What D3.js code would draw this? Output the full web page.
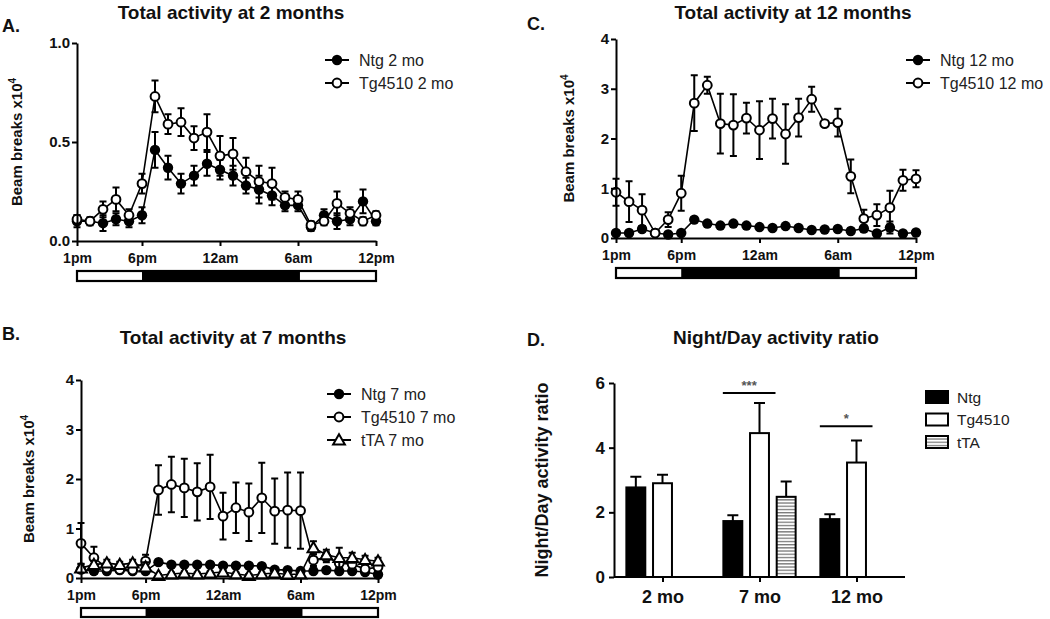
<!DOCTYPE html>
<html><head><meta charset="utf-8">
<script src="https://cdn.jsdelivr.net/npm/d3@7"></script>
<style>body{margin:0;background:#fff} svg{display:block;font-family:"Liberation Sans",Arial,sans-serif}</style>
</head><body><svg id="c" width="1050" height="619"></svg>
<script>
// ---------- data ----------
const hours = [0,1,2,3,4,5,6,7,8,9,10,11,12,13,14,15,16,17,18,19,20,21,22,23];
const xTickHours = [0,5,11,17,23];
const xTickLabels = ["1pm","6pm","12am","6am","12pm"];
const lightsOff = 5, lightsOn = 17.15;

// Panel A: 2 months
const ntg2    = [0.10,0.10,0.09,0.11,0.10,0.13,0.46,0.37,0.29,0.33,0.39,0.36,0.33,0.28,0.26,0.23,0.18,0.18,0.07,0.13,0.10,0.11,0.20,0.10];
const ntg2Err = [0.03,0.02,0.04,0.03,0.03,0.04,0.09,0.06,0.05,0.05,0.06,0.05,0.05,0.04,0.07,0.05,0.03,0.03,0.02,0.03,0.04,0.03,0.06,0.02];
const tg2     = [0.11,0.10,0.16,0.21,0.13,0.29,0.73,0.59,0.60,0.52,0.55,0.43,0.44,0.35,0.30,0.29,0.22,0.21,0.08,0.10,0.19,0.14,0.10,0.13];
const tg2Err  = [0.02,0.01,0.04,0.06,0.03,0.05,0.08,0.05,0.07,0.06,0.09,0.10,0.08,0.07,0.08,0.08,0.03,0.04,0.02,0.02,0.06,0.03,0.02,0.02];

// Panel B: 7 months
const ntg7    = [0.17,0.14,0.14,0.16,0.14,0.14,0.32,0.27,0.27,0.27,0.27,0.25,0.25,0.25,0.24,0.17,0.16,0.14,0.14,0.16,0.14,0.14,0.12,0.07];
const ntg7Err = [0.06,0.06,0.05,0.05,0.05,0.05,0.05,0.04,0.04,0.04,0.04,0.04,0.04,0.04,0.04,0.04,0.04,0.04,0.05,0.05,0.05,0.05,0.05,0.05];
const tg7     = [0.70,0.41,0.20,0.17,0.16,0.34,1.78,1.89,1.82,1.74,1.84,1.25,1.42,1.33,1.62,1.35,1.37,1.36,0.36,0.42,0.30,0.28,0.18,0.22];
const tg7Err  = [0.41,0.22,0.05,0.05,0.05,0.13,0.50,0.56,0.59,0.58,0.65,0.47,0.51,0.58,0.71,0.66,0.76,0.77,0.12,0.10,0.08,0.08,0.06,0.06];
const tta7    = [0.20,0.27,0.30,0.27,0.30,0.22,0.05,0.08,0.10,0.08,0.10,0.12,0.08,0.05,0.08,0.10,0.07,0.08,0.61,0.47,0.41,0.41,0.37,0.34];
const tta7Err = [0.08,0.08,0.07,0.06,0.07,0.10,0.03,0.03,0.03,0.03,0.03,0.03,0.03,0.03,0.03,0.03,0.03,0.03,0.13,0.10,0.20,0.10,0.08,0.07];

// Panel C: 12 months
const ntg12    = [0.10,0.10,0.18,0.10,0.07,0.10,0.37,0.29,0.25,0.29,0.25,0.22,0.20,0.24,0.20,0.16,0.17,0.18,0.14,0.19,0.09,0.21,0.09,0.11];
const ntg12Err = [0.04,0.03,0.05,0.03,0.03,0.04,0.05,0.04,0.03,0.04,0.03,0.03,0.03,0.04,0.03,0.03,0.03,0.03,0.05,0.06,0.04,0.12,0.03,0.03];
const tg12     = [0.92,0.73,0.56,0.10,0.37,0.90,2.71,3.07,2.30,2.27,2.41,2.17,2.40,2.09,2.42,2.79,2.30,2.32,1.24,0.39,0.46,0.61,1.16,1.19];
const tg12Err  = [0.27,0.41,0.32,0.03,0.15,0.35,0.56,0.17,0.60,0.62,0.31,0.58,0.40,0.60,0.38,0.25,0.05,0.28,0.34,0.18,0.22,0.34,0.21,0.17];

// Panel D: Night/Day ratio
const ageGroups   = ["2 mo","7 mo","12 mo"];
const genotypes   = ["Ntg","Tg4510","tTA"];
const ntgRatio    = [2.77,1.73,1.79];
const ntgRatioErr = [0.33,0.18,0.15];
const tgRatio     = [2.90,4.45,3.54];
const tgRatioErr  = [0.26,0.93,0.68];
const ttaRatio    = [null,2.48,null];
const ttaRatioErr = [null,0.47,null];
const ratioTicks  = [0,2,4,6];
const sigGroups = ["7 mo","12 mo"];
const sigLabels = ["***","*"];
const sigLevels = [5.69,4.66];

// ---------- drawing ----------
const svg = d3.select("#c");
svg.append("rect").attr("width",1050).attr("height",619).attr("fill","#fff");
const defs = svg.append("defs");
const pat = defs.append("pattern").attr("id","stripes").attr("patternUnits","userSpaceOnUse")
  .attr("width",6).attr("height",3.2);
pat.append("rect").attr("width",6).attr("height",3.2).attr("fill","#fff");
pat.append("rect").attr("width",6).attr("height",1.3).attr("fill","#777");

function styleAxis(sel, fs){
  sel.attr("font-family",null).attr("font-size",null);
  sel.select(".domain").attr("stroke","#000").attr("stroke-width",2);
  sel.selectAll(".tick line").attr("stroke","#000").attr("stroke-width",2);
  sel.selectAll(".tick text").attr("fill","#111").attr("font-weight","bold").attr("font-size",fs);
}

function marker(g, type, cx, cy){
  if(type==="filled"){
    g.append("circle").attr("cx",cx).attr("cy",cy).attr("r",5.2).attr("fill","#000");
  } else if(type==="open"){
    g.append("circle").attr("cx",cx).attr("cy",cy).attr("r",4.4).attr("fill","#fff").attr("stroke","#000").attr("stroke-width",2);
  } else {
    g.append("path").attr("d",d3.symbol(d3.symbolTriangle,60)()).attr("transform",`translate(${cx},${cy+1})`)
      .attr("fill","#fff").attr("stroke","#000").attr("stroke-width",2);
  }
}

function linePanel(o){
  const g = svg.append("g");
  const x = d3.scaleLinear().domain([0,23]).range([o.x0,o.x1]);
  const y = d3.scaleLinear().domain([0,o.ymax]).range([o.y0,o.y1]);

  o.series.forEach(s=>{
    const sg = g.append("g");
    sg.append("path").datum(s.values)
      .attr("d",d3.line().x((d,i)=>x(hours[i])).y(d=>y(d)))
      .attr("fill","none").attr("stroke","#000").attr("stroke-width",1.6);
    sg.selectAll("path.err").data(s.values).enter().append("path").attr("class","err")
      .attr("d",(d,i)=>{const cx=x(hours[i]), t=y(d+s.err[i]), b=y(Math.max(0,d-s.err[i]));
        return `M${cx},${t}V${b}M${cx-3.5},${t}h7M${cx-3.5},${b}h7`;})
      .attr("stroke","#000").attr("stroke-width",2).attr("fill","none");
    s.values.forEach((d,i)=>marker(sg,s.type,x(hours[i]),y(d)));
  });

  const ya = g.append("g").attr("transform",`translate(${o.x0},0)`)
    .call(d3.axisLeft(y).tickValues(o.yticks).tickFormat(o.yfmt).tickSize(5).tickSizeOuter(0).tickPadding(2));
  styleAxis(ya, o.yfs);
  const xa = g.append("g").attr("transform",`translate(0,${o.y0})`)
    .call(d3.axisBottom(x).tickValues(xTickHours).tickFormat((d,i)=>xTickLabels[i]).tickSize(5).tickSizeOuter(0).tickPadding(7));
  styleAxis(xa, 14);

  g.append("rect").attr("x",x(0)).attr("y",o.barY).attr("width",x(lightsOff)-x(0)).attr("height",o.barH).attr("fill","#fff");
  g.append("rect").attr("x",x(lightsOff)).attr("y",o.barY).attr("width",x(lightsOn)-x(lightsOff)).attr("height",o.barH).attr("fill","#000");
  g.append("rect").attr("x",x(0)).attr("y",o.barY).attr("width",x(23)-x(0)).attr("height",o.barH)
    .attr("fill","none").attr("stroke","#000").attr("stroke-width",2.2);

  g.append("text").attr("x",o.tx).attr("y",o.ty).attr("text-anchor","middle").attr("font-weight","bold")
    .attr("font-size",19).attr("fill","#111").text(o.title);
  g.append("text").attr("x",o.lx).attr("y",o.ly).attr("font-weight","bold").attr("font-size",18).attr("fill","#111")
    .text(o.letter);
  const yl = g.append("text").attr("transform",`translate(${o.ylx},${(o.y0+o.y1)/2}) rotate(-90)`)
    .attr("text-anchor","middle").attr("font-weight","bold").attr("font-size",15).attr("fill","#111");
  yl.append("tspan").text("Beam breaks x10");
  yl.append("tspan").attr("dy",-6).attr("font-size",10).text("4");

  o.series.forEach((s,i)=>{
    const ly = o.legY + i*o.legStep;
    g.append("line").attr("x1",o.legX-12).attr("x2",o.legX+12).attr("y1",ly).attr("y2",ly).attr("stroke","#000").attr("stroke-width",2);
    marker(g,s.type,o.legX,ly);
    g.append("text").attr("x",o.legX+22).attr("y",ly+5.5).attr("font-size",16).attr("fill","#222").text(s.name);
  });
}

linePanel({x0:77,x1:376,y0:241,y1:43,ymax:1,yticks:[0,0.5,1],yfmt:d3.format(".1f"),yfs:15,
  barY:271,barH:10,title:"Total activity at 2 months",tx:231,ty:19,letter:"A.",lx:2,ly:32,ylx:22,
  legX:337,legY:60,legStep:23,
  series:[{name:"Ntg 2 mo",type:"filled",values:ntg2,err:ntg2Err},{name:"Tg4510 2 mo",type:"open",values:tg2,err:tg2Err}]});

linePanel({x0:616,x1:916,y0:238,y1:39,ymax:4,yticks:[0,1,2,3,4],yfmt:d3.format("d"),yfs:15,
  barY:268,barH:10,title:"Total activity at 12 months",tx:793,ty:19,letter:"C.",lx:527,ly:30,ylx:574,
  legX:918,legY:60,legStep:23,
  series:[{name:"Ntg 12 mo",type:"filled",values:ntg12,err:ntg12Err},{name:"Tg4510 12 mo",type:"open",values:tg12,err:tg12Err}]});

linePanel({x0:81,x1:378,y0:578,y1:380,ymax:4,yticks:[0,1,2,3,4],yfmt:d3.format("d"),yfs:15,
  barY:608,barH:9,title:"Total activity at 7 months",tx:233,ty:344,letter:"B.",lx:2,ly:340,ylx:34,
  legX:339,legY:394,legStep:23,
  series:[{name:"Ntg 7 mo",type:"filled",values:ntg7,err:ntg7Err},{name:"Tg4510 7 mo",type:"open",values:tg7,err:tg7Err},{name:"tTA 7 mo",type:"tri",values:tta7,err:tta7Err}]});

// ---------- Panel D ----------
(function(){
  const g = svg.append("g");
  const x = d3.scalePoint().domain(ageGroups).range([614,905]).padding(0.5);
  const xs = d3.scaleBand().domain(genotypes).range([-40,40]).paddingInner(0.29).paddingOuter(0.145);
  const y = d3.scaleLinear().domain([0,6]).range([577,383]);
  const fills = {"Ntg":"#000","Tg4510":"#fff","tTA":"url(#stripes)"};
  const vals = {"Ntg":[ntgRatio,ntgRatioErr],"Tg4510":[tgRatio,tgRatioErr],"tTA":[ttaRatio,ttaRatioErr]};
  genotypes.forEach(gt=>{
    const [v,e] = vals[gt];
    ageGroups.forEach((grp,i)=>{
      if(v[i]==null) return;
      const bx = x(grp)+xs(gt), bw = xs.bandwidth(), cx = bx+bw/2;
      g.append("path").attr("d",`M${cx},${y(v[i])}V${y(v[i]+e[i])}M${cx-5.5},${y(v[i]+e[i])}h11`)
        .attr("stroke","#000").attr("stroke-width",2).attr("fill","none");
      g.append("rect").attr("x",bx).attr("y",y(v[i])).attr("width",bw).attr("height",y(0)-y(v[i]))
        .attr("fill",fills[gt]).attr("stroke","#000").attr("stroke-width",2);
    });
  });
  sigGroups.forEach((grp,i)=>{
    const xa = x(grp)+xs("Ntg")+xs.bandwidth()/2-10, xb = x(grp)+xs("Tg4510")+xs.bandwidth()/2+16;
    g.append("line").attr("x1",xa).attr("x2",xb).attr("y1",y(sigLevels[i])).attr("y2",y(sigLevels[i]))
      .attr("stroke","#000").attr("stroke-width",2);
    g.append("text").attr("x",(xa+xb)/2).attr("y",y(sigLevels[i])-3).attr("text-anchor","middle")
      .attr("font-size",13).attr("font-weight","bold").attr("fill","#555").text(sigLabels[i]);
  });
  const ya = g.append("g").attr("transform","translate(614,0)")
    .call(d3.axisLeft(y).tickValues(ratioTicks).tickFormat(d3.format("d")).tickSize(5).tickSizeOuter(0).tickPadding(4));
  styleAxis(ya,17);
  const xa = g.append("g").attr("transform","translate(0,577)")
    .call(d3.axisBottom(x).tickSize(5).tickSizeOuter(0).tickPadding(8));
  xa.select(".domain").attr("d","M614,0H905");
  styleAxis(xa,18);
  g.append("text").attr("x",527).attr("y",346).attr("font-weight","bold").attr("font-size",18).attr("fill","#111").text("D.");
  g.append("text").attr("x",776).attr("y",344).attr("text-anchor","middle").attr("font-weight","bold").attr("font-size",19).attr("fill","#111").text("Night/Day activity ratio");
  g.append("text").attr("transform",`translate(548,480) rotate(-90)`).attr("text-anchor","middle")
    .attr("font-weight","bold").attr("font-size",18).attr("fill","#111").text("Night/Day activity ratio");
  genotypes.forEach((gt,i)=>{
    const ly = 397 + i*22.5;
    g.append("rect").attr("x",926).attr("y",ly-6).attr("width",22).attr("height",12)
      .attr("fill",fills[gt]).attr("stroke","#000").attr("stroke-width",2);
    g.append("text").attr("x",957).attr("y",ly+5.5).attr("font-size",15.5).attr("fill","#222").text(gt);
  });
})();
</script></body></html>
